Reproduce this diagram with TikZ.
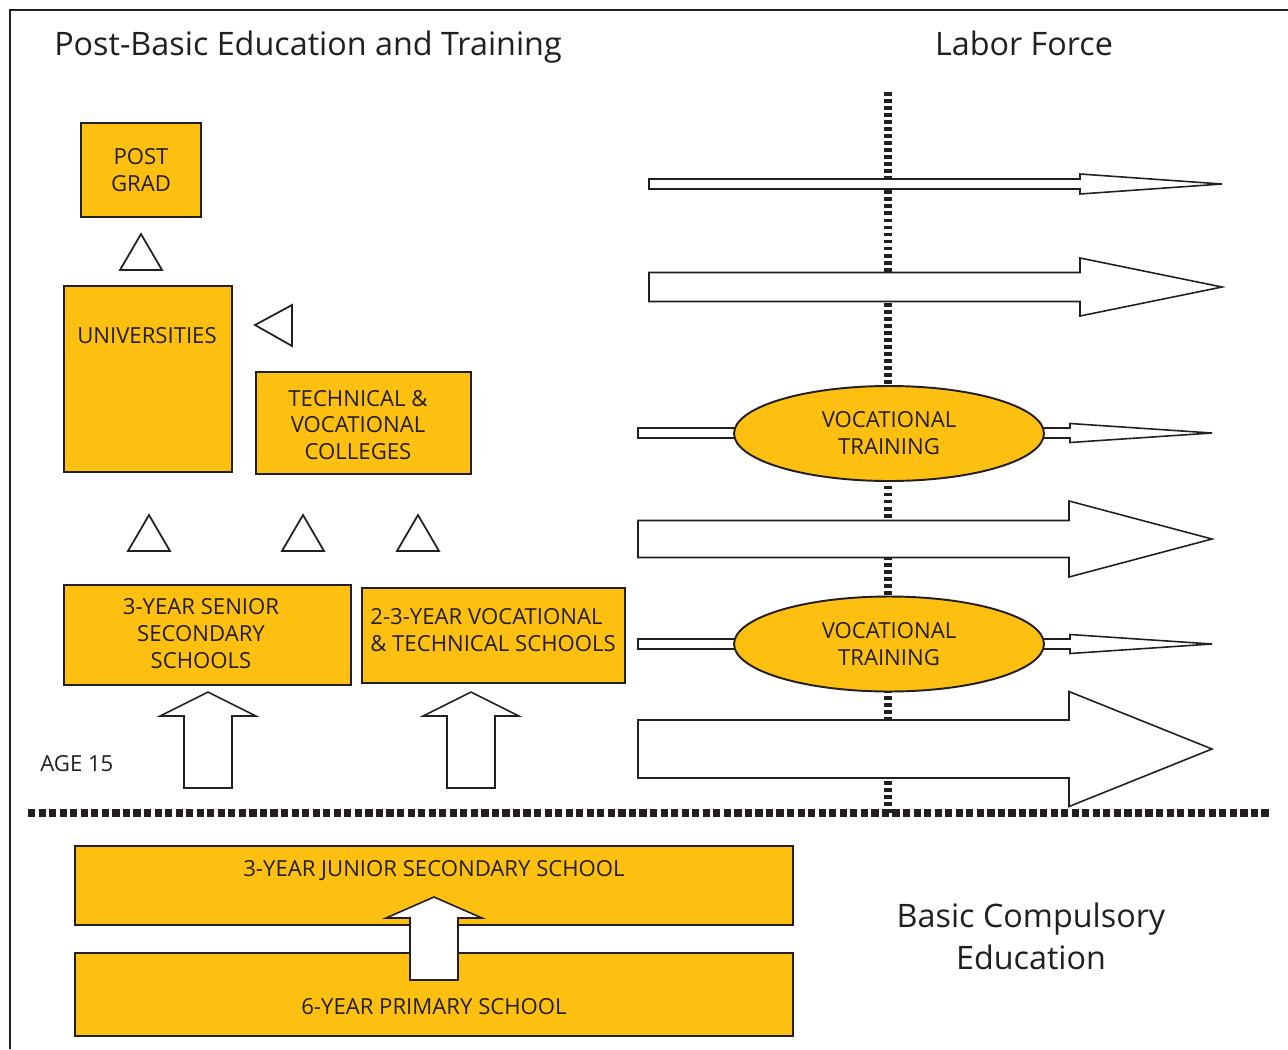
\documentclass[tikz,border=0pt]{standalone}
\usepackage{fontspec}
\setmainfont{Open Sans}
\usetikzlibrary{shapes.geometric}

\definecolor{boxyellow}{HTML}{FDC010}
\definecolor{inkgray}{HTML}{231F20}

\tikzset{
  box/.style={draw=inkgray, line width=1.1pt, fill=boxyellow, inner sep=0pt},
  boxtext/.style={text=inkgray, font=\fontsize{12.6}{15.3}\selectfont, align=center, inner sep=0pt},
  headtext/.style={text=inkgray, font=\fontsize{18.4}{23.8}\selectfont, align=center, inner sep=0pt},
  blockarrow/.style={draw=inkgray, line width=0.9pt, fill=white},
  tri/.style={draw=inkgray, line width=1pt, fill=white},
  hdots/.style={draw=inkgray, line width=4.5pt, dash pattern=on 4.1pt off 1.9pt},
  vdots/.style={draw=inkgray, line width=4.7pt, dash pattern=on 2.2pt off 1.8pt},
}

\begin{document}
\begin{tikzpicture}[x=0.02cm, y=-0.02cm]
	\useasboundingbox (0,0) rectangle (1288,1049);
	% frame
	\draw[inkgray, line width=1.1pt] (1288,10) -- (10,10) -- (10,1049);

	% headings
	\node[headtext, anchor=base] (heading) at (308,55) {Post-Basic Education and Training};
	\node[headtext, anchor=base] (labor) at (1024,55) {Labor Force};
	\node[headtext] (basic) at (1031,936) {Basic Compulsory\\Education};
	\node[boxtext, anchor=west] (age) at (40,764) {AGE 15};

	% dotted lines
	\draw[vdots] (888,92) -- (888,813);
	\draw[hdots] (28,813) -- (1270,813);

	% arrows to the labor force
	\foreach \y/\s/\h/\xa/\xn/\xt in {184/5/10/649/1080/1222, 287/14.5/29/649/1080/1222,
	  539/18.5/38/638/1069/1212, 749/29/57.5/638/1069/1212,
	  433/5/9.5/1000/1070/1212, 644/5/9.5/1000/1070/1212}
	  \draw[blockarrow] (\xa,\y-\s) -- (\xn,\y-\s) -- (\xn,\y-\h) -- (\xt,\y)
	    -- (\xn,\y+\h) -- (\xn,\y+\s) -- (\xa,\y+\s) -- cycle;
	\draw[blockarrow] (638,428) rectangle (780,438);
	\draw[blockarrow] (638,639) rectangle (780,649);

	% vocational training
	\node[box, ellipse, minimum width=6.2cm, minimum height=1.9cm] (vt1) at (889,433.5) {};
	\node[boxtext] at (vt1) {VOCATIONAL\\TRAINING};
	\node[box, ellipse, minimum width=6.2cm, minimum height=1.9cm] (vt2) at (889,644) {};
	\node[boxtext] at (vt2) {VOCATIONAL\\TRAINING};

	% post-basic boxes
	\node[box, minimum width=2.4cm, minimum height=1.88cm] (postgrad) at (141,170) {};
	\node[boxtext] at (postgrad) {POST\\GRAD};
	\node[box, minimum width=3.36cm, minimum height=3.72cm] (univ) at (148,379) {};
	\node[boxtext] at (147,336) {UNIVERSITIES};
	\node[box, minimum width=4.3cm, minimum height=2.04cm] (techcoll) at (363.5,423) {};
	\node[boxtext] at (358,425) {TECHNICAL \&\\VOCATIONAL\\COLLEGES};
	\node[box, minimum width=5.74cm, minimum height=2cm] (senior) at (207.5,635) {};
	\node[boxtext] at (201,633.5) {3-YEAR SENIOR\\SECONDARY\\SCHOOLS};
	\node[box, minimum width=5.26cm, minimum height=1.9cm] (vocsch) at (493.5,635.5) {};
	\node[boxtext, anchor=west, align=left] at (370,630.5) {2-3-YEAR VOCATIONAL\\\& TECHNICAL SCHOOLS};

	% basic compulsory boxes
	\node[box, minimum width=14.36cm, minimum height=1.58cm] (junior) at (434,885.5) {};
	\node[boxtext] at (434,871) {3-YEAR JUNIOR SECONDARY SCHOOL};
	\node[box, minimum width=14.36cm, minimum height=1.66cm] (primary) at (434,994.5) {};
	\node[boxtext] at (434,1007) {6-YEAR PRIMARY SCHOOL};

	% up arrows
	\foreach \x/\yt/\ys/\yb in {208/692/716/788, 471/692/716/788, 434/897/918/980}
	  \draw[blockarrow] (\x-24,\yb) -- (\x-24,\ys) -- (\x-48,\ys) -- (\x,\yt)
	    -- (\x+48,\ys) -- (\x+24,\ys) -- (\x+24,\yb) -- cycle;

	% triangles
	\foreach \x/\y in {141/270, 149/551, 303/551, 418/551}
	  \draw[tri] (\x-21,\y) -- (\x,\y-36) -- (\x+21,\y) -- cycle;
	\draw[tri] (292,305) -- (255,325) -- (292,346) -- cycle;
\end{tikzpicture}
\end{document}
